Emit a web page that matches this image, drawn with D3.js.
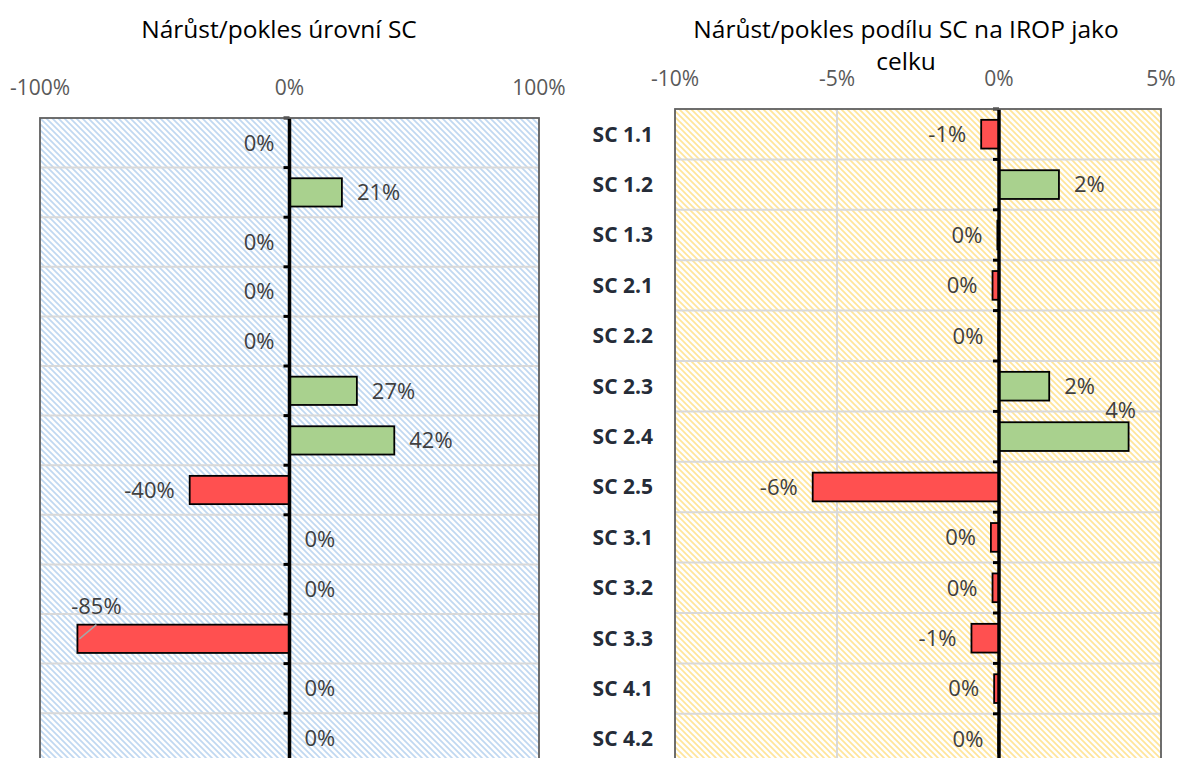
<!DOCTYPE html>
<html>
<head>
<meta charset="utf-8">
<script src="https://cdn.jsdelivr.net/npm/d3@7"></script>
<style>
  body { margin: 0; background: #fff; }
  svg { display: block; font-family: "Open Sans", "Noto Sans", sans-serif; }
</style>
</head>
<body>
<div id="vis"></div>
<script>
// data
const CATEGORIES = ["SC 1.1", "SC 1.2", "SC 1.3", "SC 2.1", "SC 2.2", "SC 2.3", "SC 2.4",
                    "SC 2.5", "SC 3.1", "SC 3.2", "SC 3.3", "SC 4.1", "SC 4.2"];
// change of SC level (%) - tiny negatives keep the "0%" label on the left
const LEVEL_CHANGE = [-0.01, 21, -0.01, -0.01, -0.01, 27, 42, -40, 0, 0, -85, 0, 0];
// change of SC share in IROP (%)
const SHARE_CHANGE = [-0.55, 1.85, -0.05, -0.2, -0.02, 1.55, 4.0, -5.75, -0.25, -0.2, -0.85, -0.15, -0.02];
const LEVEL_TICKS = [-100, 0, 100];
const SHARE_TICKS = [-10, -5, 0, 5];

const WIDTH = 1179, HEIGHT = 758;

const SVG = d3.select("#vis")
              .append("svg")
                .attr("width", WIDTH)
                .attr("height", HEIGHT);

// hatch patterns for the plot areas
const DEFS = SVG.append("defs");
function addHatch(id, color) {
  const p = DEFS.append("pattern")
                .attr("id", id)
                .attr("patternUnits", "userSpaceOnUse")
                .attr("width", 6)
                .attr("height", 6);
  p.append("rect").attr("width", 6).attr("height", 6).attr("fill", "#fff");
  p.append("path")
    .attr("d", "M0,0L6,6M-1,5L1,7M5,-1L7,1")
    .attr("stroke", color)
    .attr("stroke-width", 1.7);
}
addHatch("hatchBlue", "#c0d8f1");
addHatch("hatchGold", "#ffe59a");

const fmt = (v) => Math.round(v) + "%";

function drawChart(cfg) {
  const X = d3.scaleLinear().domain(cfg.domain).range([cfg.left, cfg.right]);
  const Y = d3.scaleBand()
              .domain(CATEGORIES)
              .range([cfg.top, cfg.top + CATEGORIES.length * cfg.rowH])
              .paddingInner(0.43)
              .paddingOuter(0.215);
  const bottom = cfg.top + CATEGORIES.length * cfg.rowH;
  const G = SVG.append("g");
  const rowTop = (c) => Y(c) + Y.bandwidth() / 2 - Y.step() / 2;
  const mid = (c) => Y(c) + Y.bandwidth() / 2;

  // plot area
  G.append("rect")
    .attr("x", cfg.left).attr("y", cfg.top)
    .attr("width", cfg.right - cfg.left).attr("height", bottom - cfg.top)
    .attr("fill", "url(#" + cfg.hatch + ")");

  // horizontal gridlines at category boundaries
  G.selectAll(".hgrid")
    .data(CATEGORIES.slice(1))
    .enter()
    .append("line")
      .attr("x1", cfg.left).attr("x2", cfg.right)
      .attr("y1", (d) => rowTop(d)).attr("y2", (d) => rowTop(d))
      .attr("stroke", "#d9d9d9")
      .attr("stroke-width", 2);

  // vertical gridlines
  G.selectAll(".vgrid")
    .data(cfg.ticks.filter((t) => t !== 0 && t !== cfg.domain[0] && t !== cfg.domain[1]))
    .enter()
    .append("line")
      .attr("x1", (d) => X(d)).attr("x2", (d) => X(d))
      .attr("y1", cfg.top).attr("y2", bottom)
      .attr("stroke", "#d9d9d9")
      .attr("stroke-width", 2);

  // top tick labels
  G.selectAll(".xlab")
    .data(cfg.ticks)
    .enter()
    .append("text")
      .attr("x", (d) => X(d))
      .attr("y", cfg.tickY)
      .attr("text-anchor", "middle")
      .attr("font-size", 21)
      .attr("fill", "#595959")
      .text((d) => d + "%");

  // bars
  G.selectAll(".bar")
    .data(cfg.values)
    .enter()
    .append("rect")
      .attr("x", (d) => X(Math.min(0, d)))
      .attr("y", (d, i) => Y(CATEGORIES[i]))
      .attr("width", (d) => Math.abs(X(d) - X(0)))
      .attr("height", Y.bandwidth())
      .attr("fill", (d) => d < 0 ? "#ff5050" : "#a9d18e")
      .attr("stroke", "#000")
      .attr("stroke-width", 1.8);

  // zero axis with ticks pointing left
  G.append("line")
    .attr("x1", X(0)).attr("x2", X(0))
    .attr("y1", cfg.top).attr("y2", bottom)
    .attr("stroke", "#000")
    .attr("stroke-width", 3.5);
  G.selectAll(".tick")
    .data(CATEGORIES)
    .enter()
    .append("line")
      .attr("x1", X(0) - 6).attr("x2", X(0))
      .attr("y1", (d) => rowTop(d)).attr("y2", (d) => rowTop(d))
      .attr("stroke", "#000")
      .attr("stroke-width", 3);

  // plot border
  G.append("rect")
    .attr("x", cfg.left).attr("y", cfg.top)
    .attr("width", cfg.right - cfg.left).attr("height", bottom - cfg.top)
    .attr("fill", "none")
    .attr("stroke", "#5f5f5f")
    .attr("stroke-width", 1.8);

  // data labels (outside end, except the moved ones)
  G.selectAll(".dlab")
    .data(cfg.values)
    .enter()
    .append("text")
      .attr("x", (d, i) => {
        const m = cfg.moved[i];
        if (m) return X(d) + m.dx;
        return d < 0 ? X(d) - 15 : X(d) + 15;
      })
      .attr("y", (d, i) => mid(CATEGORIES[i]) + (cfg.moved[i] ? cfg.moved[i].dy : 0))
      .attr("dy", "0.35em")
      .attr("text-anchor", (d, i) => cfg.moved[i] ? "middle" : (d < 0 ? "end" : "start"))
      .attr("font-size", 22)
      .attr("fill", "#404040")
      .text((d) => fmt(d));

  // leader lines for moved labels
  Object.keys(cfg.moved).forEach((k) => {
    const m = cfg.moved[k];
    if (!m.leader) return;
    const c = CATEGORIES[k], v = cfg.values[k];
    G.append("line")
      .attr("x1", X(v) + 2).attr("y1", mid(c))
      .attr("x2", X(v) + m.dx).attr("y2", Y(c))
      .attr("stroke", "#a6a6a6")
      .attr("stroke-width", 1.5);
  });

  // category labels
  if (cfg.showCats) {
    G.selectAll(".cat")
      .data(CATEGORIES)
      .enter()
      .append("text")
        .attr("x", cfg.left - 22)
        .attr("y", (d) => mid(d))
        .attr("dy", "0.35em")
        .attr("text-anchor", "end")
        .attr("font-size", 21)
        .attr("font-weight", "bold")
        .attr("fill", "#252c38")
        .text((d) => d);
  }

  // title
  const T = G.append("text")
             .attr("x", cfg.titleX)
             .attr("y", 38)
             .attr("text-anchor", "middle")
             .attr("font-size", 24.5)
             .attr("fill", "#000");
  cfg.title.forEach((line, i) => {
    T.append("tspan").attr("x", cfg.titleX).attr("dy", i === 0 ? 0 : 32).text(line);
  });
}

drawChart({
  values: LEVEL_CHANGE, domain: [-100, 100], ticks: LEVEL_TICKS,
  left: 40, right: 539, top: 118, rowH: 49.6, tickY: 95,
  hatch: "hatchBlue", showCats: false,
  moved: {10: {dx: 19, dy: -33, leader: true}},
  title: ["Nárůst/pokles úrovní SC"], titleX: 279
});

drawChart({
  values: SHARE_CHANGE, domain: [-10, 5], ticks: SHARE_TICKS,
  left: 675, right: 1161, top: 109, rowH: 50.4, tickY: 86,
  hatch: "hatchGold", showCats: true,
  moved: {6: {dx: -8, dy: -26, leader: false}},
  title: ["Nárůst/pokles podílu SC na IROP jako", "celku"], titleX: 906
});
</script>
</body>
</html>
